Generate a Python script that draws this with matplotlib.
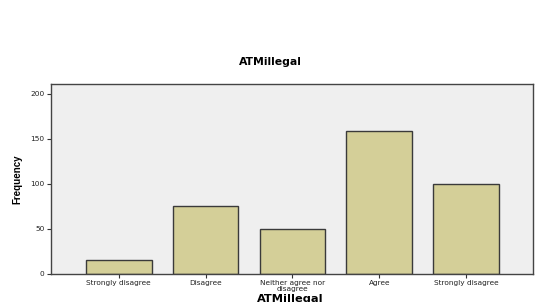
import matplotlib.pyplot as plt
import numpy as np

categories = ["Strongly disagree", "Disagree", "Neither agree nor\ndisagree", "Agree", "Strongly disagree"]
counts = [15, 76, 50, 159, 100]
yticks = [0, 50, 100, 150, 200]

plt.rcParams['font.family'] = ['DejaVu Sans']

fig = plt.figure(figsize=(5.4, 3.02), dpi=100)
ax = fig.add_axes([51/540, 1 - 274/302, 482/540, 190/302])
ax.set_facecolor("#efefef")

x = np.arange(len(categories))
ax.bar(x, counts, width=0.755, color="#d4cf98", edgecolor="#3a3a3a", linewidth=1.0, zorder=2)

ax.set_xlim(-0.78, 4.77)
ax.set_ylim(0, 211)
ax.set_xticks(x)
ax.set_xticklabels(categories, fontsize=5.3, linespacing=0.85, color="#222222")
ax.set_yticks(yticks)
ax.set_yticklabels(yticks, fontsize=5.3, color="#222222")
ax.tick_params(axis="both", length=3, width=0.8, color="#333333", pad=1.5)

for s in ax.spines.values():
    s.set_color("#444444")
    s.set_linewidth(1.0)

fig.text(270/540, 1 - 62/302, "ATMillegal", ha="center", va="center", fontsize=7.8, fontweight="bold")
fig.text(290/540, 1 - 298.5/302, "ATMillegal", ha="center", va="center", fontsize=8.2, fontweight="bold")
fig.text(17/540, 1 - 179/302, "Frequency", ha="center", va="center", rotation=90,
         fontsize=7, fontweight="bold", family=["Liberation Sans Narrow", "Liberation Sans", "DejaVu Sans"])

fig.savefig("out.png", dpi=100)
